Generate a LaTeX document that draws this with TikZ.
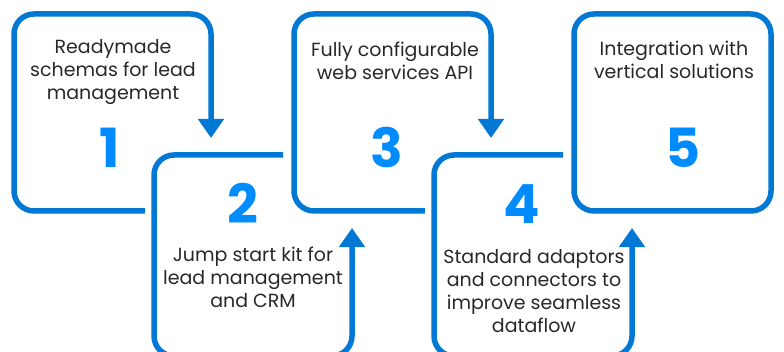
\documentclass[tikz,border=0pt]{standalone}
\usepackage{fontspec}
\setmainfont{Poppins}
\usetikzlibrary{arrows.meta}
\definecolor{lineblue}{RGB}{0,120,212}
\definecolor{numblue}{RGB}{0,140,255}
\definecolor{txtgray}{RGB}{40,40,40}
\begin{document}
\begin{tikzpicture}[x=1pt,y=1pt,
  boxline/.style={draw=lineblue, line width=5.5pt, rounded corners=20pt},
  flowarrow/.style={-{Triangle[width=25pt,length=19pt]}},
  num/.style={font=\fontsize{54}{54}\selectfont\bfseries, text=numblue, anchor=base, inner sep=0pt},
  desc/.style={font=\fontsize{19}{23}\selectfont, text=txtgray, align=center, anchor=base, inner sep=0pt}]
\useasboundingbox (0,0) rectangle (784,351);
\clip (0,0) rectangle (784,351);
% box 1
\coordinate (b1s) at (145,140);
\coordinate (b1bl) at (14,140);
\coordinate (b1tl) at (14,337);
\coordinate (b1tr) at (211,337);
\coordinate (b1e) at (211,213);
\draw[boxline, flowarrow] (b1s) -- (b1bl) -- (b1tl) -- (b1tr) -- (b1e);
% box 2
\coordinate (b2s) at (283,196);
\coordinate (b2tl) at (154,196);
\coordinate (b2bl) at (154,-5);
\coordinate (b2br) at (352,-5);
\coordinate (b2e) at (352,123);
\draw[boxline, flowarrow] (b2s) -- (b2tl) -- (b2bl) -- (b2br) -- (b2e);
% box 3
\coordinate (b3s) at (425,140);
\coordinate (b3bl) at (294,140);
\coordinate (b3tl) at (294,337);
\coordinate (b3tr) at (491,337);
\coordinate (b3e) at (491,213);
\draw[boxline, flowarrow] (b3s) -- (b3bl) -- (b3tl) -- (b3tr) -- (b3e);
% box 4
\coordinate (b4s) at (563,196);
\coordinate (b4tl) at (434,196);
\coordinate (b4bl) at (434,-5);
\coordinate (b4br) at (632,-5);
\coordinate (b4e) at (632,123);
\draw[boxline, flowarrow] (b4s) -- (b4tl) -- (b4bl) -- (b4br) -- (b4e);
% box 5
\coordinate (b5bl) at (574,140);
\coordinate (b5tr) at (771,337);
\draw[boxline] (b5bl) rectangle (b5tr);
% numbers
\node[num] (n1) at (110,183) {1};
\node[num] (n2) at (243,128) {2};
\node[num] (n3) at (386.5,183) {3};
\node[num] (n4) at (522,128) {4};
\node[num] (n5) at (683,183) {5};
% texts (anchor base = last line's baseline)
\node[desc] (t1) at (113,251) {Readymade\\schemas for lead\\management};
\node[desc] (t2) at (253,44) {Jump start kit for\\lead management\\and CRM};
\node[desc] (t3) at (395,271) {Fully configurable\\web services API};
\node[desc] (t4) at (534,19) {Standard adaptors\\and connectors to\\improve seamless\\dataflow};
\node[desc] (t5) at (674,272) {Integration with\\vertical solutions};
\end{tikzpicture}
\end{document}
